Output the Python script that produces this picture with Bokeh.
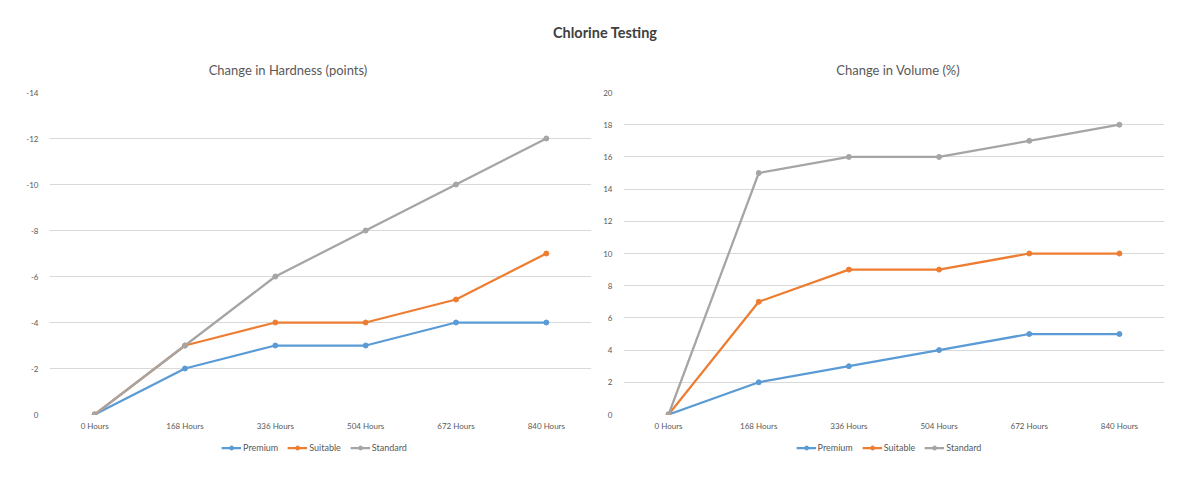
from bokeh.plotting import figure
from bokeh.models import (ColumnDataSource, FactorRange, Range1d, FixedTicker, Legend,
                          LegendItem, Div, CustomJSTickFormatter)
from bokeh.layouts import column, row
from bokeh.embed import file_html
from bokeh.resources import INLINE

hours = ["0 Hours", "168 Hours", "336 Hours", "504 Hours", "672 Hours", "840 Hours"]
series = ["Premium", "Suitable", "Standard"]
colors = ["#5B9BD5", "#ED7D31", "#A5A5A5"]

hardness_premium = [0, -2, -3, -3, -4, -4]
hardness_suitable = [0, -3, -4, -4, -5, -7]
hardness_standard = [0, -3, -6, -8, -10, -12]

volume_premium = [0, 2, 3, 4, 5, 5]
volume_suitable = [0, 7, 9, 9, 10, 10]
volume_standard = [0, 15, 16, 16, 17, 18]

hardness_ticks = [0, -2, -4, -6, -8, -10, -12, -14]
volume_ticks = [0, 2, 4, 6, 8, 10, 12, 14, 16, 18, 20]

main_title = "Chlorine Testing"
sub_titles = ["Change in Hardness (points)", "Change in Volume (%)"]

FONT = "Lato"
TXT = "#595959"


def add_series(p, data, visible=True):
    src = ColumnDataSource(dict(x=hours, **{s: v for s, v in zip(series, data)}))
    items = []
    for s, c in zip(series, colors):
        ln = p.line("x", s, source=src, line_color=c, line_width=2.25, visible=visible)
        sc = p.scatter("x", s, source=src, size=5, fill_color=c, line_color=c, visible=visible)
        items.append(LegendItem(label=s, renderers=[ln, sc]))
    return items


def make_plot(data, y_start, y_end, ticks, width, bl, br):
    p = figure(x_range=FactorRange(factors=hours, range_padding=0),
               y_range=Range1d(y_start, y_end),
               width=width, height=354, output_backend="svg", toolbar_location=None,
               min_border_left=bl, min_border_right=br, min_border_top=10, min_border_bottom=22)
    p.outline_line_color = None
    add_series(p, data)
    p.xgrid.grid_line_color = None
    p.ygrid.grid_line_color = "#D9D9D9"
    p.ygrid.grid_line_width = 1
    p.yaxis.ticker = FixedTicker(ticks=ticks)
    for ax in (p.xaxis, p.yaxis):
        ax.axis_line_color = None
        ax.major_tick_line_color = None
        ax.minor_tick_line_color = None
        ax.major_tick_out = 0
        ax.major_tick_in = 0
        ax.major_label_text_font = FONT
        ax.major_label_text_font_size = "8px"
        ax.major_label_text_color = TXT
    p.xaxis.major_label_standoff = 6
    p.yaxis.major_label_standoff = 11
    p.yaxis.formatter = CustomJSTickFormatter(code="return tick.toString();")
    return p


def make_legend(data, width, bl, br):
    q = figure(x_range=FactorRange(factors=hours, range_padding=0), y_range=Range1d(-100, -99),
               width=width, height=22, output_backend="svg", toolbar_location=None,
               min_border_left=bl, min_border_right=br, min_border_top=0, min_border_bottom=0)
    q.axis.visible = False
    q.grid.grid_line_color = None
    q.outline_line_color = None
    items = add_series(q, data, visible=False)
    leg = Legend(items=items, orientation="horizontal", location="center",
                 border_line_color=None, background_fill_alpha=0,
                 label_text_font=FONT, label_text_font_size="9px", label_text_color=TXT,
                 glyph_width=20, glyph_height=10, spacing=9, padding=0, margin=0,
                 label_standoff=2, label_height=10, click_policy="none")
    q.add_layout(leg)
    return q


p1 = make_plot([hardness_premium, hardness_suitable, hardness_standard],
               0, -14, hardness_ticks, 600, 49, 9)
p2 = make_plot([volume_premium, volume_suitable, volume_standard],
               0, 20, volume_ticks, 600, 23, 36)
l1 = make_legend([hardness_premium, hardness_suitable, hardness_standard], 600, 43, 15)
l2 = make_legend([volume_premium, volume_suitable, volume_standard], 600, 18, 41)

title = Div(text=f'<div style="width:1200px;text-align:center;font-family:\'{FONT}\';'
                 f'font-weight:bold;font-size:14.5px;color:#404040;padding-top:18px">{main_title}</div>',
            width=1200, height=40)

span = ('<span style="position:absolute;left:{left}px;transform:translateX(-50%);'
        'white-space:nowrap;font-family:\'' + FONT + '\';font-size:13px;color:' + TXT + '">{t}</span>')
subs = Div(text='<div style="position:relative;width:1200px;height:22px;top:6px">'
                + span.format(left=283, t=sub_titles[0])
                + span.format(left=893, t=sub_titles[1]) + '</div>',
           width=1200, height=22)

layout = column(title, subs, row(p1, p2, spacing=0), row(l1, l2, spacing=0), spacing=0)
open("out.html", "w").write(file_html(layout, INLINE))
